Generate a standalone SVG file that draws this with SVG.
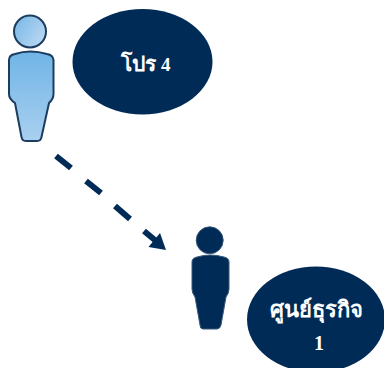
<svg xmlns="http://www.w3.org/2000/svg" width="384" height="368" viewBox="0 0 384 368">
<style>
.oval{fill:#002b57}
.t{fill:#fff;font-family:"Liberation Serif","DejaVu Serif","Noto Sans",serif;font-weight:bold;text-anchor:middle}
.o{stroke:#1c3d5e;stroke-width:2}
.d{fill:#002b57;stroke:#3a5877;stroke-width:1}
.c{fill:none;stroke:#002b57;stroke-width:6}
</style>
<defs>
<linearGradient id="g1" x1="0" y1="0" x2="0" y2="1"><stop offset="0" stop-color="#70b4e6"/><stop offset="1" stop-color="#a9d0f0"/></linearGradient>
<linearGradient id="g2" x1="0" y1="0.2" x2="1" y2="0.8"><stop offset="0" stop-color="#7cb9e8"/><stop offset="1" stop-color="#bcd9f2"/></linearGradient>
</defs>
<g id="connectors">
<path class="c" d="M56 156 L71 168 M86 181 L101 193 M115 206 L130 219 M144 231 L156 241"/>
<polygon fill="#002b57" points="160,233 166,250 148.500,247"/>
</g>
<g id="person-1">
<circle class="o" cx="30" cy="31.500" r="16" fill="url(#g2)"/>
<path class="o" fill="url(#g1)" d="M9 60 Q9 55 15 54 Q30 49 47 54 Q53 55 53.500 60 L53.500 94 Q53.500 99 49 103 L41.500 137 Q41 141 37 141 L26 141 Q22 141 21.500 137 L15 103 Q9 99 9 94 Z"/>
</g>
<g id="oval-1">
<ellipse class="oval" cx="142.500" cy="61.700" rx="70" ry="52.700"/>
<text class="t" x="145.500" y="71" font-size="21">โปร <tspan font-size="19">4</tspan></text>
</g>
<g id="person-2">
<circle class="d" cx="209.700" cy="240.300" r="13.500"/>
<path class="d" d="M192 262 Q192 258 197 257 Q210 253 224 257 Q229 258 229 262 L229 289 Q229 293 226 297 L221 325 Q220 329 217 329 L203 329 Q200 329 200 325 L195 297 Q192 293 192 289 Z"/>
</g>
<g id="oval-2">
<ellipse class="oval" cx="316" cy="319.500" rx="69" ry="53"/>
<text class="t" x="316" y="317" font-size="22">ศูนย์ธุรกิจ</text>
<text class="t" x="319" y="350" font-size="20">1</text>
</g>
</svg>
